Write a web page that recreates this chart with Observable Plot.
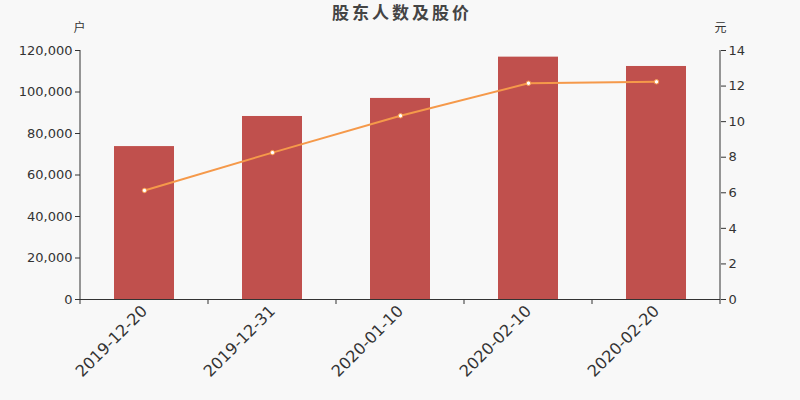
<!DOCTYPE html>
<html>
<head>
<meta charset="utf-8">
<script src="https://cdn.jsdelivr.net/npm/d3@7"></script>
<script src="https://cdn.jsdelivr.net/npm/@observablehq/plot@0.6"></script>
<style>
  html, body { margin: 0; padding: 0; background: #f8f8f8; }
  #chart { width: 800px; height: 400px; }
</style>
</head>
<body>
<div id="chart"></div>
<script>
const dates = ["2019-12-20", "2019-12-31", "2020-01-10", "2020-02-10", "2020-02-20"];
const holders = [73700, 88200, 96900, 116800, 112300];
const prices = [6.13, 8.26, 10.33, 12.16, 12.24];
const leftTicks = [0, 20000, 40000, 60000, 80000, 100000, 120000];
const rightTicks = [0, 2, 4, 6, 8, 10, 12, 14];
const title = "股东人数及股价";
const leftUnit = "户";
const rightUnit = "元";

const leftMax = 120000, rightMax = 14;
const ratio = leftMax / rightMax;
const data = dates.map((d, i) => ({date: d, holders: holders[i], price: prices[i]}));

const barColor = "#c0504d";
const lineColor = "#f5994a";
const ink = "#333333";
const font = "DejaVu Sans, 'Noto Sans CJK SC', sans-serif";

const plot = Plot.plot({
  width: 800,
  height: 400,
  marginLeft: 80,
  marginRight: 80,
  marginTop: 50,
  marginBottom: 101,
  style: {background: "#f8f8f8", fontFamily: font, fontSize: "13px", color: ink},
  x: {domain: dates, paddingInner: 0.53, paddingOuter: 0.265, label: null},
  y: {domain: [0, leftMax], label: null},
  marks: [
    Plot.barY(data, {x: "date", y: "holders", fill: barColor}),
    Plot.line(data, {x: "date", y: d => d.price * ratio, stroke: lineColor, strokeWidth: 2}),
    Plot.dot(data, {x: "date", y: d => d.price * ratio, r: 2.2, fill: "white", stroke: lineColor, strokeWidth: 1}),
    Plot.axisY({anchor: "left", ticks: leftTicks, tickFormat: d3.format(","), tickSize: 5, tickPadding: 3, label: null, color: ink, fontSize: 13}),
    Plot.axisY({anchor: "right", ticks: rightTicks.map(v => v * ratio), tickFormat: v => String(Math.round(v / ratio)), tickSize: 5, tickPadding: 3, label: null, color: ink, fontSize: 13}),
    Plot.axisX({tickRotate: -45, tickSize: 0, tickPadding: 9, label: null, fontSize: 16, color: ink}),
    Plot.ruleY([0], {stroke: ink}),
    Plot.text([title], {frameAnchor: "top", dy: -37, lineAnchor: "middle", textAnchor: "middle", fontSize: 17, fontWeight: "bold", fill: "#444444", className: "title"}),
    Plot.text([leftUnit], {frameAnchor: "top-left", dy: -22, dx: -1, lineAnchor: "middle", textAnchor: "middle", fontSize: 12, fill: ink}),
    Plot.text([rightUnit], {frameAnchor: "top-right", dy: -22, dx: 0, lineAnchor: "middle", textAnchor: "middle", fontSize: 12, fill: ink})
  ]
});

// axis lines and category-boundary ticks, from the plot's own scales
const xs = plot.scale("x");
const ys = plot.scale("y");
const svg = d3.select(plot);
svg.selectAll("g.title text").attr("letter-spacing", "3px").attr("dx", "1.5");
const [x0, x1] = [80, 720];
const step = xs.step;
const yBottom = ys.apply(0), yTop = ys.apply(leftMax);
const g = svg.append("g").attr("stroke", ink).attr("fill", "none");
g.append("line").attr("x1", x0).attr("x2", x0).attr("y1", yTop).attr("y2", yBottom + 0.5);
g.append("line").attr("x1", x1).attr("x2", x1).attr("y1", yTop).attr("y2", yBottom + 0.5);
const firstStart = xs.apply(dates[0]) - (step - xs.bandwidth) / 2;
for (let i = 0; i <= dates.length; i++) {
  const bx = firstStart + i * step;
  g.append("line").attr("x1", bx).attr("x2", bx).attr("y1", yBottom).attr("y2", yBottom + 5);
}
document.getElementById("chart").appendChild(plot);
</script>
</body>
</html>
